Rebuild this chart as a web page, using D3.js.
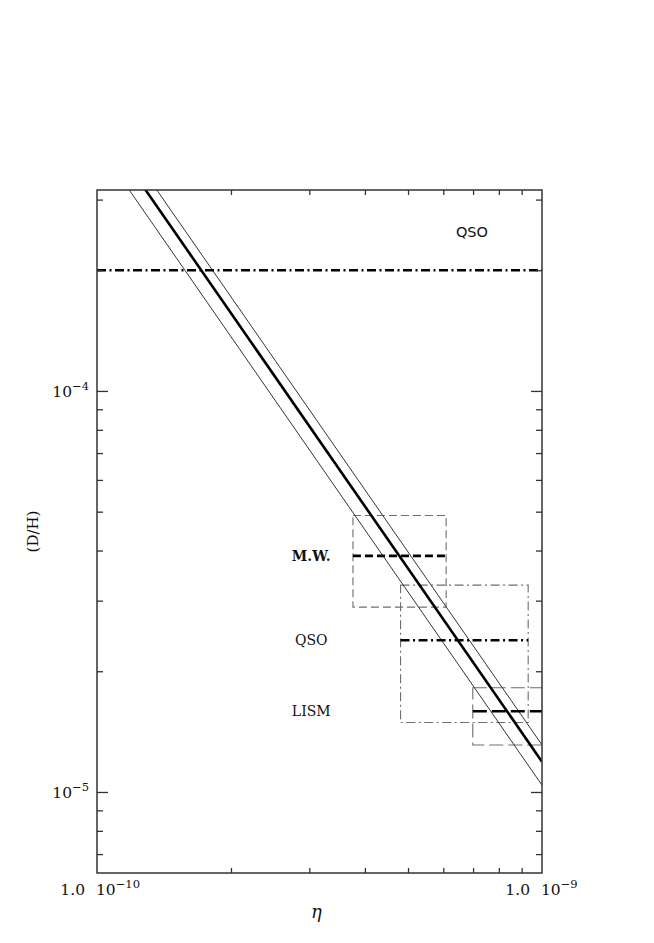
<!DOCTYPE html>
<html><head><meta charset="utf-8">
<script src="https://cdn.jsdelivr.net/npm/d3@7"></script>
<style>body{margin:0;background:#fff}svg{display:block}</style>
</head><body>
<svg id="c" width="654" height="943"></svg>
<script>
// ---- data ----
const etaDomain = [1e-10, 1e-9];
const dhDomain = [6.28e-6, 3.17e-4];
const xMajorTicks = [1e-10, 1e-9];
const xMinorTicks = [2e-10, 3e-10, 4e-10, 5e-10, 6e-10, 7e-10, 8e-10, 9e-10];
const yMajorTicks = [1e-5, 1e-4];
const yMinorTicks = [7e-6, 8e-6, 9e-6, 2e-5, 3e-5, 4e-5, 5e-5, 6e-5, 7e-5, 8e-5, 9e-5, 2e-4, 3e-4];
const yTickLabels = [["10", "\u22125"], ["10", "\u22124"]];
const xTickLabels = [["1.0", "10", "\u221210"], ["1.0", "10", "\u22129"]];
// theory band: [eta, D/H] endpoints
const centralLine = [[1e-10, 4.74e-4], [1e-9, 1.19e-5]];
const upperLine = [[1e-10, 5.2e-4], [1e-9, 1.31e-5]];
const lowerLine = [[1e-10, 4.14e-4], [1e-9, 1.04e-5]];
// observations
const qsoHigh = 2.0e-4;
const boxNames = ["M.W.", "QSO", "LISM"];
const boxEtaLo = [3.76e-10, 4.81e-10, 6.99e-10];
const boxEtaHi = [6.09e-10, 9.31e-10, 1.12e-9];
const boxDHLo = [2.89e-5, 1.49e-5, 1.31e-5];
const boxDHHi = [4.89e-5, 3.28e-5, 1.82e-5];
const boxDHMid = [3.88e-5, 2.39e-5, 1.59e-5];
const labelEta = 3.03e-10;
const labelDH = [3.88e-5, 2.39e-5, 1.59e-5];
const topLabel = {text: "QSO", eta: 6.96e-10, dh: 2.49e-4};

// ---- styles ----
const boxDash = ["8,4", "9,3.5,2,3.5", "14,5"];
const midDash = ["8,4", "9,3.5,2,3.5", "14,5"];

const svg = d3.select("#c");
const L = 97, R = 542, T = 190, B = 873;
const x = d3.scaleLog().domain(etaDomain).range([L, R]);
const y = d3.scaleLog().domain(dhDomain).range([B, T]);

svg.append("defs").append("clipPath").attr("id", "clip")
  .append("rect").attr("x", L).attr("y", T).attr("width", R - L).attr("height", B - T);

const g = svg.append("g").attr("clip-path", "url(#clip)");
const line = d3.line().x(d => x(d[0])).y(d => y(d[1]));

// boxes
boxNames.forEach((n, i) => {
  g.append("rect")
    .attr("x", x(boxEtaLo[i])).attr("y", y(boxDHHi[i]))
    .attr("width", x(boxEtaHi[i]) - x(boxEtaLo[i]))
    .attr("height", y(boxDHLo[i]) - y(boxDHHi[i]))
    .attr("fill", "none").attr("stroke", "#6e6e6e").attr("stroke-width", 1.1)
    .attr("stroke-dasharray", boxDash[i]);
});
// theory lines
g.append("path").datum(upperLine).attr("d", line).attr("fill", "none").attr("stroke", "#333").attr("stroke-width", 1);
g.append("path").datum(lowerLine).attr("d", line).attr("fill", "none").attr("stroke", "#333").attr("stroke-width", 1);
g.append("path").datum(centralLine).attr("d", line).attr("fill", "none").attr("stroke", "#000").attr("stroke-width", 2.6);

// medians
boxNames.forEach((n, i) => {
  g.append("path").datum([[boxEtaLo[i], boxDHMid[i]], [boxEtaHi[i], boxDHMid[i]]])
    .attr("d", line).attr("fill", "none").attr("stroke", "#000").attr("stroke-width", 2.6)
    .attr("stroke-dasharray", midDash[i]);
});
// high QSO line
g.append("path").datum([[etaDomain[0], qsoHigh], [etaDomain[1], qsoHigh]])
  .attr("d", line).attr("fill", "none").attr("stroke", "#000").attr("stroke-width", 2.6)
  .attr("stroke-dasharray", "9,3.5,2,3.5");

// axes
const axCol = "#333";
function ax(gen, tr) {
  const a = svg.append("g").attr("transform", tr).call(gen);
  a.select(".domain").remove();
  a.selectAll("line").attr("stroke", axCol).attr("stroke-width", 1.3);
  a.selectAll("text").remove();
}
ax(d3.axisLeft(y).tickValues(yMajorTicks).tickSize(-11).tickFormat(""), `translate(${L},0)`);
ax(d3.axisLeft(y).tickValues(yMinorTicks).tickSize(-6).tickFormat(""), `translate(${L},0)`);
ax(d3.axisRight(y).tickValues(yMajorTicks).tickSize(-11).tickFormat(""), `translate(${R},0)`);
ax(d3.axisRight(y).tickValues(yMinorTicks).tickSize(-6).tickFormat(""), `translate(${R},0)`);
ax(d3.axisBottom(x).tickValues(xMinorTicks).tickSize(-5).tickFormat(""), `translate(0,${B})`);
ax(d3.axisTop(x).tickValues(xMinorTicks).tickSize(-5).tickFormat(""), `translate(0,${T})`);
svg.append("rect").attr("x", L).attr("y", T).attr("width", R - L).attr("height", B - T)
  .attr("fill", "none").attr("stroke", axCol).attr("stroke-width", 1.5);

const font = "'DejaVu Serif', serif";
// y tick labels
yMajorTicks.forEach((v, i) => {
  const t = svg.append("text").attr("x", L - 8).attr("y", y(v) + 6)
    .attr("text-anchor", "end").attr("font-family", font).attr("font-size", 15.5).attr("fill", "#111");
  t.append("tspan").text(yTickLabels[i][0]);
  t.append("tspan").attr("dy", -7).attr("font-size", 11.5).text(yTickLabels[i][1]);
});
// x tick labels
xMajorTicks.forEach((v, i) => {
  svg.append("text").attr("x", x(v) - 12).attr("y", B + 22)
    .attr("text-anchor", "end").attr("font-family", font).attr("font-size", 15.5).attr("fill", "#111")
    .text(xTickLabels[i][0]);
  const t = svg.append("text").attr("x", x(v) - 1).attr("y", B + 22)
    .attr("text-anchor", "start").attr("font-family", font).attr("font-size", 15.5).attr("fill", "#111");
  t.append("tspan").text(xTickLabels[i][1]);
  t.append("tspan").attr("dy", -7).attr("font-size", 11.5).text(xTickLabels[i][2]);
});
// axis titles
svg.append("text").attr("transform", `translate(38,${(T + B) / 2 + 0}) rotate(-90)`)
  .attr("text-anchor", "middle").attr("font-family", font).attr("font-size", 15).attr("fill", "#111")
  .text("(D/H)");
svg.append("text").attr("x", (L + R) / 2 - 3).attr("y", 918)
  .attr("text-anchor", "middle").attr("font-family", font).attr("font-style", "italic")
  .attr("font-size", 18).attr("fill", "#111").text("\u03B7");

// labels
boxNames.forEach((n, i) => {
  svg.append("text").attr("x", x(labelEta)).attr("y", y(labelDH[i]) + 5)
    .attr("text-anchor", "middle").attr("font-family", font)
    .attr("font-weight", i === 0 ? "bold" : "normal")
    .attr("font-size", 14).attr("fill", "#111").text(n);
});
svg.append("text").attr("x", x(topLabel.eta)).attr("y", y(topLabel.dh) + 5)
  .attr("text-anchor", "middle").attr("font-family", "'DejaVu Sans', sans-serif")
  .attr("font-size", 14.5).attr("fill", "#111").text(topLabel.text);
</script>
</body></html>
